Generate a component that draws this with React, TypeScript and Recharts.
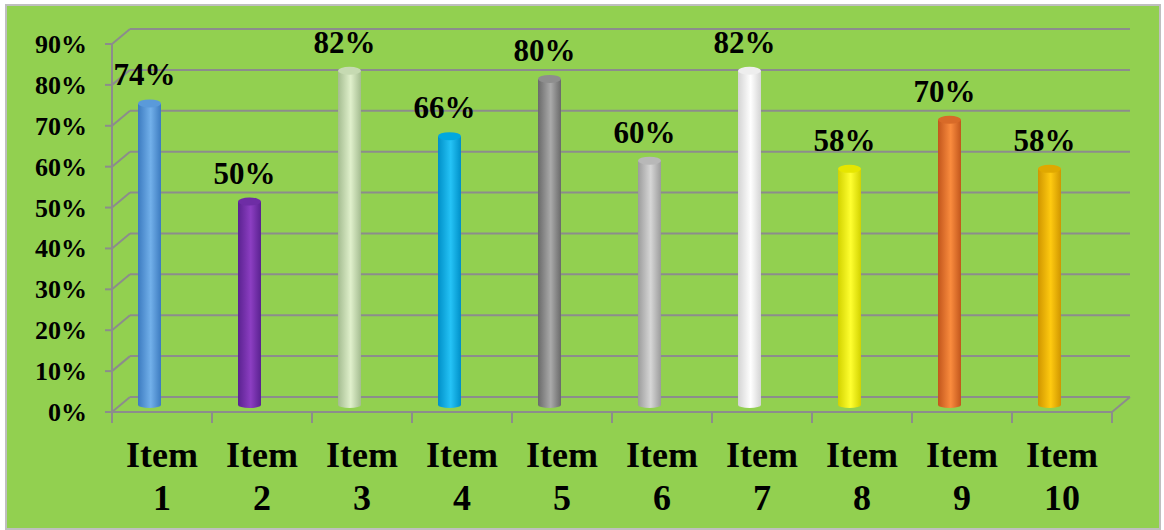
import {
  BarChart,
  Bar,
  XAxis,
  YAxis,
  CartesianGrid,
  LabelList,
  Customized,
} from "recharts";

const categories = ["Item 1", "Item 2", "Item 3", "Item 4", "Item 5", "Item 6", "Item 7", "Item 8", "Item 9", "Item 10"];
const scores = [0.74, 0.5, 0.82, 0.66, 0.8, 0.6, 0.82, 0.58, 0.7, 0.58];
const yTicks = [0, 0.1, 0.2, 0.3, 0.4, 0.5, 0.6, 0.7, 0.8, 0.9];

// dark edge, light middle, top cap
const barColors = [
  ["#3C7BC0", "#72B0EA", "#5A9ADA"],
  ["#5A2290", "#8C3EC2", "#6E2DA5"],
  ["#A4BC90", "#E0F0CC", "#C6DAB2"],
  ["#0090C8", "#25C3F6", "#00A8E0"],
  ["#6A6A6A", "#AAAAAA", "#8E8E8E"],
  ["#9C9C9C", "#D6D6D6", "#B8B8B8"],
  ["#D4D4D4", "#FFFFFF", "#EEEEEE"],
  ["#D2D200", "#FFFF30", "#E6E600"],
  ["#C2561C", "#FA8C3E", "#D86A28"],
  ["#D09600", "#FFCA10", "#E0A800"],
];

const chartData = categories.map((c, i) => ({ name: c, value: scores[i] }));

const FONT = '"Liberation Serif", "Times New Roman", serif';
const GRID = "#8C8C8C";
const W = 1164;
const H = 530;
const PLOT_LEFT = 112;
const PLOT_RIGHT = 1112;
const PLOT_BOTTOM = 406;
const DEPTH_X = 18;
const FRONT_DY = 6;
const BACK_DY = -9;

function Cylinder(props: any) {
  const { x, y, width, height, index } = props;
  const [dark, light, top] = barColors[index % barColors.length];
  const cx = x + width / 2 - 13;
  const rx = 11.5;
  const ry = 4;
  const left = cx - rx;
  const right = cx + rx;
  const bottom = y + height - 1;
  const id = `cyl-${index}`;
  return (
    <g>
      <defs>
        <linearGradient id={id} x1="0" y1="0" x2="1" y2="0">
          <stop offset="0%" stopColor={dark} />
          <stop offset="55%" stopColor={light} />
          <stop offset="100%" stopColor={dark} />
        </linearGradient>
      </defs>
      <path
        d={`M${left},${y} L${left},${bottom} A${rx},${ry - 1} 0 0 0 ${right},${bottom} L${right},${y} Z`}
        fill={`url(#${id})`}
      />
      <ellipse cx={cx} cy={y} rx={rx} ry={ry} fill={top} />
    </g>
  );
}

function BarLabel(props: any) {
  const { x, y, width, value } = props;
  return (
    <text
      x={x + width / 2 - 18}
      y={y - 18}
      textAnchor="middle"
      fontFamily={FONT}
      fontWeight="bold"
      fontSize={31}
      fill="#000"
    >
      {Math.round(value * 100)}%
    </text>
  );
}

function YTick(props: any) {
  const { y, payload } = props;
  return (
    <text
      x={87}
      y={y + FRONT_DY + 9}
      textAnchor="end"
      fontFamily={FONT}
      fontWeight="bold"
      fontSize={26}
      fill="#000"
    >
      {Math.round(payload.value * 100)}%
    </text>
  );
}

function XTick(props: any) {
  const { x, payload } = props;
  const [word, num] = String(payload.value).split(" ");
  return (
    <text textAnchor="middle" fontFamily={FONT} fontWeight="bold" fontSize={36} fill="#000">
      <tspan x={x} y={467}>{word}</tspan>
      <tspan x={x} y={510}>{num}</tspan>
    </text>
  );
}

function GridLine(props: any) {
  const { y1 } = props;
  const yb = y1 + BACK_DY;
  const yf = y1 + FRONT_DY;
  return (
    <g key={props.key}>
      <line x1={PLOT_LEFT + DEPTH_X} y1={yb} x2={PLOT_RIGHT + DEPTH_X} y2={yb} stroke={GRID} strokeWidth={2} />
      <line x1={PLOT_LEFT} y1={yf} x2={PLOT_LEFT + DEPTH_X} y2={yb} stroke={GRID} strokeWidth={2} />
      <line x1={PLOT_LEFT - 7} y1={yf} x2={PLOT_LEFT} y2={yf} stroke={GRID} strokeWidth={2} />
    </g>
  );
}

function Frame() {
  const floorY = PLOT_BOTTOM + FRONT_DY;
  const band = (PLOT_RIGHT - PLOT_LEFT) / categories.length;
  const edges = Array.from({ length: categories.length + 1 }, (_, i) => PLOT_LEFT + i * band);
  return (
    <g>
      <line x1={PLOT_LEFT} y1={43} x2={PLOT_LEFT} y2={floorY} stroke={GRID} strokeWidth={2} />
      <line x1={PLOT_LEFT} y1={floorY} x2={PLOT_RIGHT} y2={floorY} stroke={GRID} strokeWidth={2} />
      <line
        x1={PLOT_RIGHT}
        y1={floorY}
        x2={PLOT_RIGHT + DEPTH_X}
        y2={PLOT_BOTTOM + BACK_DY}
        stroke={GRID}
        strokeWidth={2}
      />
      {edges.map((ex) => (
        <line key={ex} x1={ex} y1={floorY} x2={ex} y2={floorY + 11} stroke={GRID} strokeWidth={2} />
      ))}
    </g>
  );
}

export default function App() {
  return (
    <div style={{ position: "absolute", left: 0, top: 0, width: W, height: H, background: "#fff" }}>
      <div
        style={{
          position: "absolute",
          left: 5,
          top: 4,
          width: 1152,
          height: 522,
          background: "#92D050",
          border: "2px solid #BFBFBF",
        }}
      />
      <div style={{ position: "absolute", left: 0, top: 0 }}>
        <BarChart
          width={W}
          height={H}
          data={chartData}
          margin={{ top: 38, right: W - PLOT_RIGHT, bottom: 0, left: 0 }}
        >
          <CartesianGrid vertical={false} horizontal={GridLine} />
          <XAxis
            dataKey="name"
            height={H - PLOT_BOTTOM}
            axisLine={false}
            tickLine={false}
            tick={XTick}
            interval={0}
          />
          <YAxis
            width={PLOT_LEFT}
            domain={[0, 0.9]}
            ticks={yTicks}
            axisLine={false}
            tickLine={false}
            tick={YTick}
            interval={0}
          />
          <Customized component={Frame} />
          <Bar dataKey="value" barSize={23} shape={Cylinder} isAnimationActive={false}>
            <LabelList dataKey="value" content={BarLabel} />
          </Bar>
        </BarChart>
      </div>
    </div>
  );
}
